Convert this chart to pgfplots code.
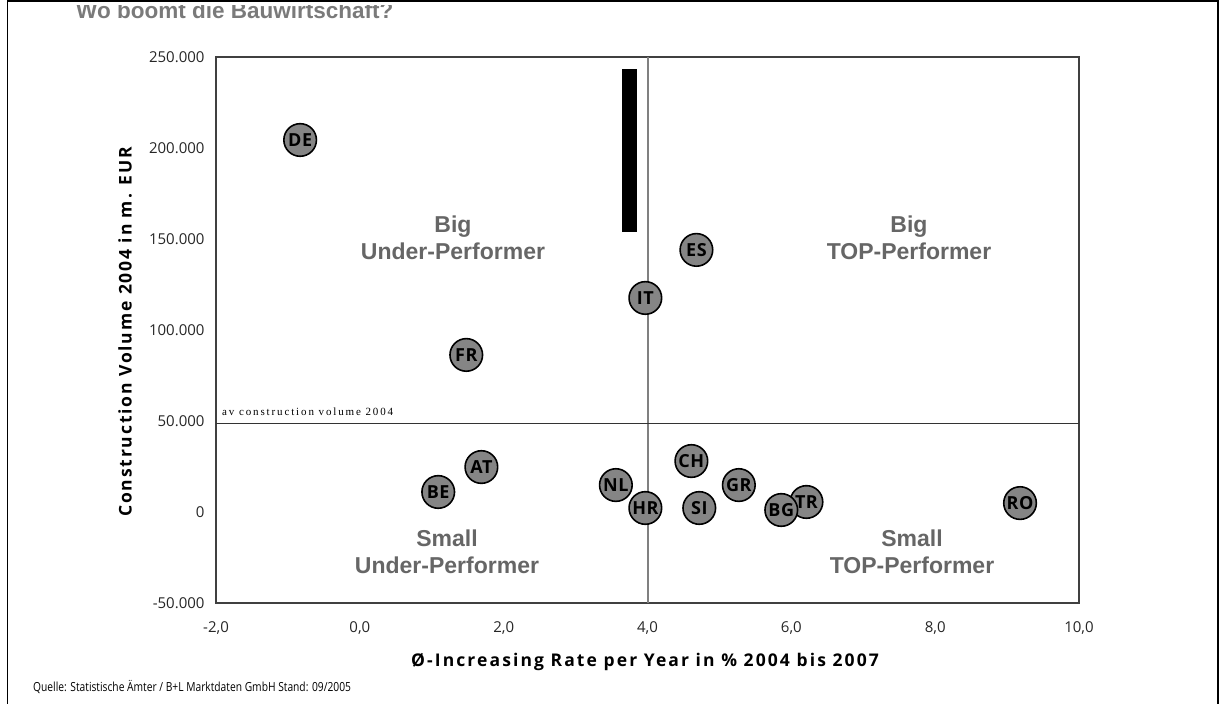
\documentclass[border=0pt]{standalone}
\usepackage{fontspec}
\usepackage{pgfplots}
\pgfplotsset{compat=1.18}
\setmainfont{Liberation Sans}
\newfontfamily\osans{Open Sans}
\newfontfamily\axfont{Open Sans}[LetterSpace=12]
\newfontfamily\ayfont{Open Sans}[LetterSpace=10.5]
\newfontfamily\bubfont{Open Sans}[LetterSpace=3]
\newfontfamily\condfont{Open Sans}[FakeStretch=0.82]
\newfontfamily\serifsp{Liberation Serif}[LetterSpace=17]
\definecolor{quad}{HTML}{666666}
\definecolor{ttl}{HTML}{7A7A7A}
\definecolor{bub}{HTML}{858585}
\definecolor{boxc}{HTML}{404040}
\begin{document}
\begin{tikzpicture}[x=1bp,y=1bp]
\useasboundingbox (0,0) rectangle (1221,704);
% title (top clipped as in the reference)
\begin{scope}
\clip (0,0) rectangle (1221,698);
\node[anchor=base west, inner sep=0, text=ttl, font=\fontsize{22.5bp}{26bp}\selectfont\bfseries] at (76,685) {Wo boomt die Bauwirtschaft?};
\end{scope}
% frame
\draw[line width=1.6bp] (7.5,-5) -- (7.5,703) -- (1218,703) -- (1218,-5);
\begin{axis}[
  at={(216bp,101bp)}, anchor=south west,
  width=863bp, height=546bp, scale only axis,
  xmin=-2, xmax=10, ymin=-50000, ymax=250000,
  xtick={-2,0,2,4,6,8,10},
  ytick={-50000,0,50000,100000,150000,200000,250000},
  scaled y ticks=false,
  major tick length=0pt,
  axis line style={boxc, line width=1.2bp},
  tick label style={font=\osans\fontsize{15bp}{18bp}\selectfont, text=black!85},
  /pgf/number format/assume math mode=true,
  xticklabel style={/pgf/number format/fixed, /pgf/number format/fixed zerofill, /pgf/number format/precision=1, /pgf/number format/use comma, yshift=-15bp},
  yticklabel style={/pgf/number format/fixed, /pgf/number format/1000 sep={.}, xshift=-8bp},
  clip=false,
]
% black bar
\addplot[fill=black, draw=none] coordinates {(3.645,153900) (3.855,153900) (3.855,243400) (3.645,243400)} -- cycle;
% quadrant lines
\addplot[color=gray, line width=2bp] coordinates {(4,-50000) (4,250000)};
\addplot[color=black!80, line width=1.2bp] coordinates {(-2,48500) (10,48500)};
% bubbles
\addplot[only marks, mark=*, mark size=16.3bp,
  mark options={fill=bub, draw=black, line width=1.6bp},
  point meta=explicit symbolic,
  nodes near coords, nodes near coords align={center},
  every node near coord/.append style={font=\bubfont\fontsize{18bp}{20bp}\selectfont\bfseries, text=black, inner sep=0pt}]
table[meta=lab] {
x y lab
-0.83 204400 DE
4.68 144000 ES
3.97 117600 IT
1.48 86300 FR
1.69 24700 AT
1.09 11000 BE
3.97 2200 HR
3.56 14800 NL
4.61 28000 CH
4.72 2200 SI
5.27 14800 GR
6.21 5500 TR
5.86 1100 BG
9.18 4900 RO
};
\end{axis}
% av label
\node[anchor=base west, inner sep=0, font=\serifsp\fontsize{11bp}{13bp}\selectfont] at (222,288) {av construction volume 2004};
% quadrant labels
\begin{scope}[every node/.style={align=center, text=quad, font=\fontsize{23bp}{27bp}\selectfont\bfseries}]
\node at (453,466) {Big\\Under-Performer};
\node at (909,466) {Big\\TOP-Performer};
\node at (447,152) {Small\\Under-Performer};
\node at (912,152) {Small\\TOP-Performer};
\end{scope}
% axis labels
\node[rotate=90, font=\ayfont\fontsize{17.5bp}{20bp}\selectfont\bfseries] at (125,372) {Construction Volume 2004 in m. EUR};
\node[font=\axfont\fontsize{17.5bp}{20bp}\selectfont\bfseries] at (645,42) {Ø-Increasing Rate per Year in \% 2004 bis 2007};
% source
\node[anchor=base west, inner sep=0, font=\condfont\fontsize{12.5bp}{14bp}\selectfont] at (33,12) {Quelle: Statistische Ämter / B+L Marktdaten GmbH Stand: 09/2005};
\end{tikzpicture}
\end{document}
